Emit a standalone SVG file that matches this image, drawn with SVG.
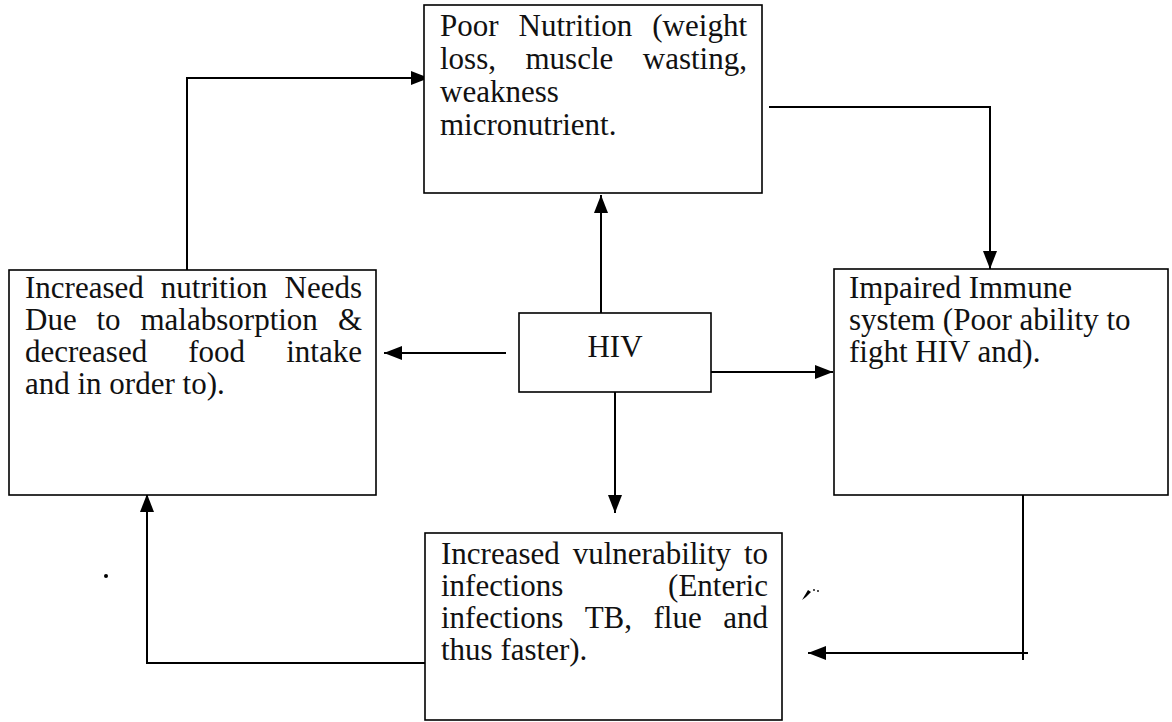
<svg xmlns="http://www.w3.org/2000/svg" width="1172" height="722" viewBox="0 0 1172 722">
<style>
.box{fill:#fff;stroke:#000;stroke-width:1.6}
.t{font-family:"Liberation Serif","Times New Roman",serif;font-size:31px;fill:#111}
.c{fill:none;stroke:#000;stroke-width:2}
</style>
<defs>
<marker id="ah" viewBox="0 0 18 14" refX="18" refY="7" markerWidth="18" markerHeight="14" markerUnits="userSpaceOnUse" orient="auto">
<path d="M0,0 L18,7 L0,14 z" fill="#000"/>
</marker>
</defs>
<rect width="1172" height="722" fill="#fff"/>

<g id="connectors">
<path class="c" d="M187,270 V78 H429" marker-end="url(#ah)"/>
<path class="c" d="M769,107 H990 V269" marker-end="url(#ah)"/>
<path class="c" d="M601,313 V195" marker-end="url(#ah)"/>
<path class="c" d="M506,353 H384" marker-end="url(#ah)"/>
<path class="c" d="M711,372 H833" marker-end="url(#ah)"/>
<path class="c" d="M615,392 V513" marker-end="url(#ah)"/>
<path class="c" d="M425,663 H147 V494" marker-end="url(#ah)"/>
<path class="c" d="M1023,495 V660"/>
<path class="c" d="M1028,653 H808" marker-end="url(#ah)"/>
</g>

<g id="poor-nutrition">
<rect class="box" x="424" y="5" width="338" height="188"/>
<text class="t" y="36"><tspan x="440">Poor</tspan><tspan x="518.6">Nutrition</tspan><tspan x="652.3">(weight</tspan></text>
<text class="t" y="69"><tspan x="440">loss,</tspan><tspan x="525.5">muscle</tspan><tspan x="642.8">wasting,</tspan></text>
<text class="t" x="440" y="102">weakness</text>
<text class="t" x="440" y="135">micronutrient.</text>
</g>

<g id="increased-needs">
<rect class="box" x="9" y="270" width="367" height="225"/>
<text class="t" y="298"><tspan x="25">Increased</tspan><tspan x="160.8">nutrition</tspan><tspan x="284.5">Needs</tspan></text>
<text class="t" y="330"><tspan x="25">Due</tspan><tspan x="96.5">to</tspan><tspan x="140.5">malabsorption</tspan><tspan x="337.9">&amp;</tspan></text>
<text class="t" y="362"><tspan x="25">decreased</tspan><tspan x="188.3">food</tspan><tspan x="286.2">intake</tspan></text>
<text class="t" x="25" y="394">and in order to).</text>
</g>

<g id="hiv">
<rect class="box" x="519" y="313" width="192" height="79"/>
<text class="t" x="615" y="357" text-anchor="middle">HIV</text>
</g>

<g id="impaired-immune">
<rect class="box" x="834" y="269" width="334" height="226"/>
<text class="t" x="849" y="298">Impaired Immune</text>
<text class="t" x="849" y="330">system (Poor ability to</text>
<text class="t" x="849" y="362">fight HIV and).</text>
</g>

<g id="vulnerability">
<rect class="box" x="425" y="533" width="357" height="187"/>
<text class="t" y="564"><tspan x="441">Increased</tspan><tspan x="572.7">vulnerability</tspan><tspan x="743.9">to</tspan></text>
<text class="t" y="596"><tspan x="441">infections</tspan><tspan x="668.1">(Enteric</tspan></text>
<text class="t" y="628"><tspan x="441">infections</tspan><tspan x="584.7">TB,</tspan><tspan x="653.5">flue</tspan><tspan x="723.2">and</tspan></text>
<text class="t" x="441" y="660">thus faster).</text>
</g>

<g id="scan-marks" fill="#000">
<circle cx="106" cy="576" r="2"/>
<path d="M802,600 L808,590 L811,592 L806,597 Z"/>
<circle cx="814" cy="590" r="0.9"/>
<circle cx="818" cy="591" r="0.9"/>
</g>
</svg>
